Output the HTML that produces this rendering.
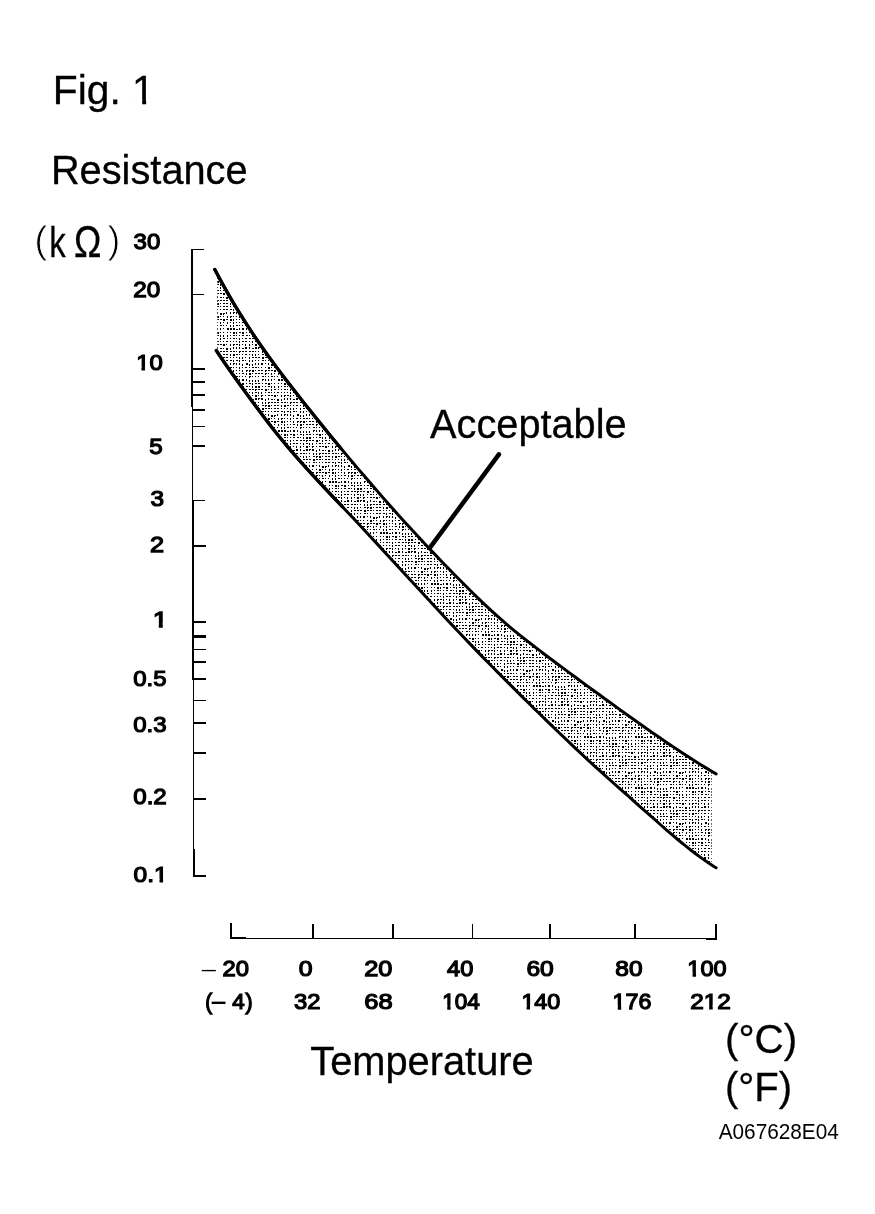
<!DOCTYPE html>
<html><head><meta charset="utf-8"><title>Fig. 1</title>
<style>
html,body{margin:0;padding:0;background:#fff;}
body{width:875px;height:1214px;overflow:hidden;}
svg{display:block;}
svg text{font-family:"Liberation Sans",sans-serif;fill:#000;font-kerning:none;}
</style></head><body>
<svg width="875" height="1214" viewBox="0 0 875 1214">
<rect width="875" height="1214" fill="#fff"/>
<defs><pattern id="dots" width="51" height="51" patternUnits="userSpaceOnUse"><path d="M0 0h2v1h-2zM3 0h2v1h-2zM7 0h2v2h-2zM10 0h2v1h-2zM13 0h2v1h-2zM16 0h1v1h-1zM19 0h2v1h-2zM22 0h2v1h-2zM26 0h1v1h-1zM29 0h1v1h-1zM32 0h1v1h-1zM35 0h1v2h-1zM38 0h1v2h-1zM41 0h1v1h-1zM45 0h1v2h-1zM48 0h2v1h-2zM0 3h1v1h-1zM3 3h1v1h-1zM7 3h2v1h-2zM10 3h1v1h-1zM13 3h1v1h-1zM16 3h1v1h-1zM19 3h2v1h-2zM22 3h2v1h-2zM26 3h2v1h-2zM29 3h1v2h-1zM32 3h2v1h-2zM35 3h1v2h-1zM38 3h2v1h-2zM41 3h1v1h-1zM45 3h1v2h-1zM48 3h1v2h-1zM0 6h1v2h-1zM3 6h1v2h-1zM6 6h2v2h-2zM10 6h1v1h-1zM13 6h1v2h-1zM16 7h2v2h-2zM19 7h2v1h-1v1h-1zM22 6h1v2h-1zM26 6h1v2h-1zM29 6h2v1h-1v1h-1zM32 6h1v2h-1zM35 6h1v2h-1zM38 7h1v2h-1zM42 6h2v2h-2zM45 7h1v2h-1zM48 7h1v2h-1zM0 10h2v1h-2zM3 10h1v1h-1zM6 10h1v1h-1zM10 10h1v1h-1zM13 10h2v2h-2zM16 10h1v1h-1zM19 10h1v1h-1zM23 10h1v2h-1zM26 10h2v1h-1v1h-1zM29 10h1v1h-1zM32 10h1v1h-1zM35 10h1v2h-1zM38 10h1v1h-1zM41 10h2v1h-2zM45 10h1v1h-1zM48 10h2v1h-2zM0 13h1v1h-1zM3 13h2v1h-2zM6 13h2v1h-2zM10 13h2v1h-1v1h-1zM13 13h2v1h-2zM16 13h2v1h-2zM19 13h2v2h-2zM22 13h2v1h-2zM26 13h2v2h-2zM29 13h1v2h-1zM32 13h1v1h-1zM35 13h1v1h-1zM38 13h1v2h-1zM42 13h2v1h-1v1h-1zM45 13h2v1h-1v1h-1zM48 13h2v2h-2zM0 16h2v1h-2zM3 16h2v1h-2zM6 16h2v1h-2zM10 16h2v1h-1v1h-1zM13 16h1v1h-1zM16 16h1v2h-1zM19 16h1v1h-1zM23 16h1v2h-1zM26 16h1v1h-1zM29 16h1v2h-1zM32 16h1v1h-1zM35 16h1v1h-1zM38 16h2v1h-2zM42 16h1v2h-1zM45 16h2v2h-2zM48 16h1v1h-1zM0 19h1v1h-1zM3 19h1v1h-1zM7 19h2v1h-2zM10 19h1v1h-1zM13 19h1v1h-1zM16 19h2v1h-2zM19 19h1v1h-1zM22 19h1v1h-1zM26 19h1v2h-1zM29 19h1v2h-1zM32 19h2v1h-2zM35 19h1v1h-1zM38 19h1v1h-1zM41 19h1v1h-1zM45 19h2v1h-1v1h-1zM48 19h1v1h-1zM0 23h1v2h-1zM3 23h1v2h-1zM7 22h2v1h-1v1h-1zM10 22h1v2h-1zM13 22h1v2h-1zM16 22h1v2h-1zM19 22h1v1h-1zM23 22h2v2h-2zM26 22h2v2h-2zM29 22h2v2h-2zM32 23h2v1h-2zM35 22h1v2h-1zM38 22h2v2h-2zM42 22h1v2h-1zM45 23h1v2h-1zM48 23h1v2h-1zM0 26h2v1h-2zM3 26h2v1h-2zM7 26h1v1h-1zM10 26h2v1h-2zM13 26h2v2h-2zM16 26h1v1h-1zM19 26h1v1h-1zM23 26h1v1h-1zM26 26h1v1h-1zM29 26h2v2h-2zM32 26h1v2h-1zM35 26h2v1h-2zM38 26h2v2h-2zM42 26h1v1h-1zM45 26h2v1h-2zM48 26h1v2h-1zM0 29h2v2h-2zM3 29h2v2h-2zM7 29h1v1h-1zM10 29h1v1h-1zM13 29h2v1h-2zM16 29h1v2h-1zM19 29h1v2h-1zM23 29h1v2h-1zM26 29h1v1h-1zM29 29h2v1h-2zM32 29h1v1h-1zM35 29h1v1h-1zM38 29h2v1h-2zM42 29h2v1h-2zM45 29h1v1h-1zM48 29h1v2h-1zM0 32h2v1h-1v1h-1zM3 32h2v1h-2zM6 32h2v1h-2zM10 32h2v2h-2zM13 32h1v1h-1zM16 32h1v2h-1zM19 32h2v1h-2zM23 32h1v1h-1zM26 32h1v1h-1zM29 32h2v1h-2zM32 32h1v1h-1zM35 32h1v2h-1zM38 32h1v1h-1zM41 32h2v1h-2zM45 32h2v1h-2zM48 32h2v1h-2zM0 35h2v1h-2zM3 35h1v2h-1zM6 35h1v2h-1zM10 35h1v1h-1zM13 35h2v1h-2zM16 35h1v1h-1zM19 35h1v1h-1zM22 35h2v1h-2zM26 35h1v1h-1zM29 35h1v1h-1zM32 35h1v1h-1zM35 35h1v2h-1zM38 35h2v1h-2zM41 35h2v1h-2zM45 35h1v1h-1zM48 35h1v2h-1zM0 38h2v2h-2zM3 38h1v1h-1zM6 38h2v1h-1v1h-1zM10 38h1v1h-1zM13 38h2v1h-2zM16 38h2v1h-2zM19 38h2v2h-2zM22 38h1v1h-1zM26 38h1v2h-1zM29 38h2v1h-1v1h-1zM32 38h2v1h-2zM35 38h1v2h-1zM38 38h1v1h-1zM41 38h1v2h-1zM45 38h1v2h-1zM48 38h1v1h-1zM0 41h2v2h-2zM3 41h2v1h-1v1h-1zM6 41h2v2h-2zM10 42h1v2h-1zM13 41h1v2h-1zM16 42h2v1h-2zM19 42h1v1h-1zM22 42h2v2h-2zM26 42h1v2h-1zM29 41h1v2h-1zM32 41h1v2h-1zM35 41h1v2h-1zM38 42h2v1h-2zM41 41h2v2h-2zM45 41h1v2h-1zM48 42h2v1h-2zM0 45h1v1h-1zM3 45h1v1h-1zM7 45h1v2h-1zM10 45h1v2h-1zM13 45h2v1h-1v1h-1zM16 45h2v1h-2zM19 45h2v1h-2zM22 45h2v1h-2zM26 45h2v1h-2zM29 45h2v1h-2zM32 45h1v1h-1zM35 45h2v1h-1v1h-1zM38 45h2v1h-2zM41 45h2v1h-2zM45 45h2v1h-2zM48 45h2v1h-2zM0 48h1v2h-1zM3 48h1v1h-1zM7 48h2v1h-2zM10 48h2v1h-1v1h-1zM13 48h2v2h-2zM16 48h1v1h-1zM19 48h2v1h-2zM22 48h2v1h-2zM26 48h1v2h-1zM29 48h2v2h-2zM32 48h2v1h-2zM35 48h1v1h-1zM38 48h1v1h-1zM41 48h2v1h-2zM45 48h1v1h-1zM48 48h1v2h-1z" fill="#000" shape-rendering="crispEdges"/></pattern></defs>
<polygon points="217.3,274.2 220.8,280.8 226.8,291.6 232.8,301.9 238.8,311.8 244.8,321.4 250.8,330.7 256.8,339.6 262.8,348.3 268.8,356.7 274.8,364.9 280.8,372.9 286.8,380.8 292.8,388.6 298.8,396.3 304.8,403.9 310.8,411.4 316.8,418.9 322.8,426.3 328.8,433.7 334.8,441.0 340.8,448.2 346.8,455.4 352.8,462.5 358.8,469.6 364.8,476.6 370.8,483.6 376.8,490.5 382.8,497.4 388.8,504.2 394.8,511.0 400.8,517.7 406.8,524.3 412.8,530.8 418.8,537.3 424.8,543.8 430.8,550.1 436.8,556.4 442.8,562.7 448.8,568.8 454.8,575.0 460.8,581.0 466.8,587.0 472.8,593.0 478.8,598.8 484.8,604.6 490.8,610.2 496.8,615.6 502.8,620.9 508.8,626.1 514.8,631.1 520.8,635.9 526.8,640.6 532.8,645.3 538.8,649.9 544.8,654.5 550.8,659.0 556.8,663.5 562.8,667.9 568.8,672.4 574.8,676.8 580.8,681.2 586.8,685.6 592.8,690.0 598.8,694.3 604.8,698.7 610.8,703.0 616.8,707.4 622.8,711.7 628.8,716.0 634.8,720.3 640.8,724.5 646.8,728.8 652.8,732.9 658.8,737.1 664.8,741.2 670.8,745.2 676.8,749.2 682.8,753.2 688.8,757.1 694.8,760.9 700.8,764.7 706.8,768.4 711.6,771.3 711.6,864.9 708.3,862.8 702.3,858.6 696.3,854.2 690.3,849.7 684.3,844.9 678.3,840.0 672.3,834.9 666.3,829.8 660.3,824.5 654.3,819.2 648.3,813.9 642.3,808.6 636.3,803.3 630.3,797.9 624.3,792.6 618.3,787.3 612.3,782.0 606.3,776.6 600.3,771.2 594.3,765.8 588.3,760.3 582.3,754.7 576.3,749.1 570.3,743.4 564.3,737.7 558.3,732.0 552.3,726.2 546.3,720.4 540.3,714.5 534.3,708.7 528.3,702.8 522.3,696.9 516.3,690.9 510.3,684.9 504.3,678.9 498.3,672.9 492.3,666.8 486.3,660.7 480.3,654.6 474.3,648.4 468.3,642.1 462.3,635.8 456.3,629.5 450.3,623.1 444.3,616.7 438.3,610.3 432.3,603.8 426.3,597.3 420.3,590.8 414.3,584.3 408.3,577.8 402.3,571.2 396.3,564.7 390.3,558.2 384.3,551.7 378.3,545.1 372.3,538.7 366.3,532.2 360.3,525.8 354.3,519.3 348.3,513.0 342.3,506.6 336.3,500.3 330.3,494.0 324.3,487.6 318.3,481.2 312.3,474.7 306.3,468.1 300.3,461.4 294.3,454.6 288.3,447.6 282.3,440.4 276.3,433.0 270.3,425.4 264.3,417.6 258.3,409.6 252.3,401.5 246.3,393.4 240.3,385.1 234.3,376.7 228.3,368.2 222.3,359.5 217.3,352.0" fill="url(#dots)"/>
<polyline points="214.8,269.5 220.8,280.8 226.8,291.6 232.8,301.9 238.8,311.8 244.8,321.4 250.8,330.7 256.8,339.6 262.8,348.3 268.8,356.7 274.8,364.9 280.8,372.9 286.8,380.8 292.8,388.6 298.8,396.3 304.8,403.9 310.8,411.4 316.8,418.9 322.8,426.3 328.8,433.7 334.8,441.0 340.8,448.2 346.8,455.4 352.8,462.5 358.8,469.6 364.8,476.6 370.8,483.6 376.8,490.5 382.8,497.4 388.8,504.2 394.8,511.0 400.8,517.7 406.8,524.3 412.8,530.8 418.8,537.3 424.8,543.8 430.8,550.1 436.8,556.4 442.8,562.7 448.8,568.8 454.8,575.0 460.8,581.0 466.8,587.0 472.8,593.0 478.8,598.8 484.8,604.6 490.8,610.2 496.8,615.6 502.8,620.9 508.8,626.1 514.8,631.1 520.8,635.9 526.8,640.6 532.8,645.3 538.8,649.9 544.8,654.5 550.8,659.0 556.8,663.5 562.8,667.9 568.8,672.4 574.8,676.8 580.8,681.2 586.8,685.6 592.8,690.0 598.8,694.3 604.8,698.7 610.8,703.0 616.8,707.4 622.8,711.7 628.8,716.0 634.8,720.3 640.8,724.5 646.8,728.8 652.8,732.9 658.8,737.1 664.8,741.2 670.8,745.2 676.8,749.2 682.8,753.2 688.8,757.1 694.8,760.9 700.8,764.7 706.8,768.4 712.8,772.0 716.1,773.9" fill="none" stroke="#000" stroke-width="3" stroke-linejoin="round" stroke-linecap="round"/>
<polyline points="214.8,269.5 220.8,280.8 226.8,291.6 232.8,301.9 238.8,311.8 244.8,321.4 250.8,330.7 256.8,339.6 262.8,348.3 268.8,356.7 274.8,364.9 280.8,372.9 286.8,380.8 292.8,388.6 298.8,396.3 304.8,403.9 310.8,411.4 316.8,418.9 322.8,426.3 328.8,433.7 334.8,441.0 340.8,448.2" fill="none" stroke="#000" stroke-width="3.3" stroke-linejoin="round" stroke-linecap="round"/>
<polyline points="216.3,350.5 222.3,359.5 228.3,368.2 234.3,376.7 240.3,385.1 246.3,393.4 252.3,401.5 258.3,409.6 264.3,417.6 270.3,425.4 276.3,433.0 282.3,440.4 288.3,447.6 294.3,454.6 300.3,461.4 306.3,468.1 312.3,474.7 318.3,481.2 324.3,487.6 330.3,494.0 336.3,500.3 342.3,506.6 348.3,513.0 354.3,519.3 360.3,525.8 366.3,532.2 372.3,538.7 378.3,545.1 384.3,551.7 390.3,558.2 396.3,564.7 402.3,571.2 408.3,577.8 414.3,584.3 420.3,590.8 426.3,597.3 432.3,603.8 438.3,610.3 444.3,616.7 450.3,623.1 456.3,629.5 462.3,635.8 468.3,642.1 474.3,648.4 480.3,654.6 486.3,660.7 492.3,666.8 498.3,672.9 504.3,678.9 510.3,684.9 516.3,690.9 522.3,696.9 528.3,702.8 534.3,708.7 540.3,714.5 546.3,720.4 552.3,726.2 558.3,732.0 564.3,737.7 570.3,743.4 576.3,749.1 582.3,754.7 588.3,760.3 594.3,765.8 600.3,771.2 606.3,776.6 612.3,782.0 618.3,787.3 624.3,792.6 630.3,797.9 636.3,803.3 642.3,808.6 648.3,813.9 654.3,819.2 660.3,824.5 666.3,829.8 672.3,834.9 678.3,840.0 684.3,844.9 690.3,849.7 696.3,854.2 702.3,858.6 708.3,862.8 714.3,866.7 716.1,867.8" fill="none" stroke="#000" stroke-width="3" stroke-linejoin="round" stroke-linecap="round"/>
<polyline points="216.3,350.5 222.3,359.5 228.3,368.2 234.3,376.7 240.3,385.1 246.3,393.4 252.3,401.5 258.3,409.6 264.3,417.6 270.3,425.4 276.3,433.0 282.3,440.4 288.3,447.6 294.3,454.6 300.3,461.4 306.3,468.1 312.3,474.7 318.3,481.2 324.3,487.6 330.3,494.0 336.3,500.3 342.3,506.6" fill="none" stroke="#000" stroke-width="3.3" stroke-linejoin="round" stroke-linecap="round"/>
<line x1="498.9" y1="454.3" x2="429.6" y2="548.2" stroke="#000" stroke-width="4.5"/><circle cx="498.9" cy="454.3" r="2.25" fill="#000"/>
<path d="M191 249H193V407H191zM192 407H193V500H192zM192 500H194V679H192zM193 679H194V849H193zM193 849H195V877H193zM191 249H204V250H191zM191 294H204V295.3H191zM191 368H204.5V370H191zM191 381H205V383H191zM191 394H204.5V396H191zM192 409H205V411H192zM192 426H205V427H192zM192 445H205V447H192zM192 499.8H205V501.3H192zM192 545H205.5V547H192zM192 620.8H205.5V623.1H192zM192 635H206V638H192zM192 649H206V650H192zM192 661H206V663H192zM192 678H206V680H192zM193 700H206V701H193zM193 722H206V724H193zM193 752H206V754H193zM193 798H206V800H193zM193 875H206V877H193zM230 923H232V939H230zM230 937H246V939H230zM230 938H717V939H230zM706 938H717V940H706zM715 924H717V940H715zM311.5 924H313.5V939H311.5zM392 924H394V939H392zM472 924H473V939H472zM549 924H551V939H549zM634 924H636V939H634z" fill="#000" shape-rendering="crispEdges"/>
<text transform="translate(52.81,103.85) scale(1.0066,1)" font-size="40.5" stroke="#000" stroke-width="0.3">Fig. 1</text><rect x="134.52" y="99.27" width="7.63" height="6.33" fill="#fff"/><rect x="146.15" y="99.27" width="8.49" height="6.33" fill="#fff"/>
<text transform="translate(50.89,183.85) scale(0.9825,1)" font-size="40.5" stroke="#000" stroke-width="0.3">Resistance</text>
<text transform="translate(430.07,437.75) scale(0.9813,1)" font-size="40.5" stroke="#000" stroke-width="0.3">Acceptable</text>
<text transform="translate(310.26,1074.85) scale(0.9829,1)" font-size="40.5" stroke="#000" stroke-width="0.3" style="font-kerning:normal">Temperature</text>
<text transform="translate(34.24,253.10) scale(1.0103,1)" font-size="39.2" stroke="#fff" stroke-width="0.9">(</text>
<text transform="translate(49.13,256.75) scale(0.7788,1)" font-size="42.3" stroke="#000" stroke-width="0.3">k</text>
<text transform="translate(73.99,256.75) scale(0.8285,1)" font-size="44.3" stroke="#000" stroke-width="0.3">Ω</text>
<text transform="translate(107.57,253.10) scale(0.9910,1)" font-size="39.2" stroke="#fff" stroke-width="0.9">)</text>
<text transform="translate(724.95,1052.85) scale(0.9850,1)" font-size="41" stroke="#000" stroke-width="0.3">(°C)</text>
<text transform="translate(724.97,1100.85) scale(0.9770,1)" font-size="41" stroke="#000" stroke-width="0.3">(°F)</text>
<text transform="translate(718.66,1138.80) scale(0.9808,1)" font-size="21.2">A067628E04</text>
<text transform="translate(133.61,249.47) scale(1.0717,1)" font-size="22.400000000000002" stroke="#000" stroke-width="1.25" stroke-linejoin="miter">30</text>
<text transform="translate(133.30,297.48) scale(1.0845,1)" font-size="22.400000000000002" stroke="#000" stroke-width="1.25" stroke-linejoin="miter">20</text>
<text transform="translate(136.13,370.48) scale(1.0669,1)" font-size="22.400000000000002" stroke="#000" stroke-width="1.25" stroke-linejoin="miter">10</text><rect x="136.39" y="366.78" width="5.03" height="5.92" fill="#fff"/><rect x="144.96" y="366.78" width="4.42" height="5.92" fill="#fff"/>
<text transform="translate(149.36,454.48) scale(1.0781,1)" font-size="22.400000000000002" stroke="#000" stroke-width="1.25" stroke-linejoin="miter">5</text>
<text transform="translate(150.40,506.28) scale(1.0875,1)" font-size="22.400000000000002" stroke="#000" stroke-width="1.25" stroke-linejoin="miter">3</text>
<text transform="translate(150.05,552.48) scale(1.1318,1)" font-size="22.400000000000002" stroke="#000" stroke-width="1.25" stroke-linejoin="miter">2</text>
<text transform="translate(152.70,626.58) scale(1.2184,1)" font-size="22.400000000000002" stroke="#000" stroke-width="1.25" stroke-linejoin="miter">1</text><rect x="153.00" y="622.88" width="5.75" height="5.92" fill="#fff"/><rect x="162.79" y="622.88" width="6.56" height="5.92" fill="#fff"/>
<text transform="translate(133.29,685.68) scale(1.0691,1)" font-size="22.400000000000002" stroke="#000" stroke-width="1.25" stroke-linejoin="miter">0.5</text>
<text transform="translate(133.29,731.58) scale(1.0707,1)" font-size="22.400000000000002" stroke="#000" stroke-width="1.25" stroke-linejoin="miter">0.3</text>
<text transform="translate(133.28,803.68) scale(1.0759,1)" font-size="22.400000000000002" stroke="#000" stroke-width="1.25" stroke-linejoin="miter">0.2</text>
<text transform="translate(133.57,882.48) scale(1.0956,1)" font-size="22.400000000000002" stroke="#000" stroke-width="1.25" stroke-linejoin="miter">0.1</text><rect x="154.31" y="878.78" width="5.16" height="5.92" fill="#fff"/><rect x="163.11" y="878.78" width="6.04" height="5.92" fill="#fff"/>
<text transform="translate(201.70,975.60) scale(1.2688,1)" font-size="20">–</text>
<text transform="translate(222.43,975.98) scale(1.0722,1)" font-size="22.200000000000003" stroke="#000" stroke-width="1.25" stroke-linejoin="miter">20</text>
<text transform="translate(298.66,975.98) scale(1.1166,1)" font-size="22.200000000000003" stroke="#000" stroke-width="1.25" stroke-linejoin="miter">0</text>
<text transform="translate(364.25,975.98) scale(1.1427,1)" font-size="22.200000000000003" stroke="#000" stroke-width="1.25" stroke-linejoin="miter">20</text>
<text transform="translate(447.08,975.98) scale(1.0658,1)" font-size="22.200000000000003" stroke="#000" stroke-width="1.25" stroke-linejoin="miter">40</text>
<text transform="translate(526.38,975.98) scale(1.1080,1)" font-size="22.200000000000003" stroke="#000" stroke-width="1.25" stroke-linejoin="miter">60</text>
<text transform="translate(615.36,975.98) scale(1.1001,1)" font-size="22.200000000000003" stroke="#000" stroke-width="1.25" stroke-linejoin="miter">80</text>
<text transform="translate(687.37,976.38) scale(1.0562,1)" font-size="22.200000000000003" stroke="#000" stroke-width="1.25" stroke-linejoin="miter">100</text><rect x="687.62" y="972.69" width="4.94" height="5.91" fill="#fff"/><rect x="696.05" y="972.69" width="4.34" height="5.91" fill="#fff"/>
<text transform="translate(205.25,1008.77) scale(0.9259,1)" font-size="22.200000000000003" stroke="#000" stroke-width="1.25" stroke-linejoin="miter">(</text>
<text transform="translate(210.65,1009.20) scale(1.1698,1)" font-size="24" font-weight="bold">–</text>
<text transform="translate(232.21,1008.77) scale(1.0057,1)" font-size="22.200000000000003" stroke="#000" stroke-width="1.25" stroke-linejoin="miter">4</text>
<text transform="translate(245.40,1008.77) scale(0.9599,1)" font-size="22.200000000000003" stroke="#000" stroke-width="1.25" stroke-linejoin="miter">)</text>
<text transform="translate(293.92,1008.77) scale(1.0712,1)" font-size="22.200000000000003" stroke="#000" stroke-width="1.25" stroke-linejoin="miter">32</text>
<text transform="translate(364.23,1008.77) scale(1.1482,1)" font-size="22.200000000000003" stroke="#000" stroke-width="1.25" stroke-linejoin="miter">68</text>
<text transform="translate(442.26,1008.77) scale(1.0145,1)" font-size="22.200000000000003" stroke="#000" stroke-width="1.25" stroke-linejoin="miter">104</text><rect x="442.50" y="1005.09" width="4.74" height="5.91" fill="#fff"/><rect x="450.60" y="1005.09" width="4.17" height="5.91" fill="#fff"/>
<text transform="translate(521.38,1008.77) scale(1.0533,1)" font-size="22.200000000000003" stroke="#000" stroke-width="1.25" stroke-linejoin="miter">140</text><rect x="521.62" y="1005.09" width="4.92" height="5.91" fill="#fff"/><rect x="530.03" y="1005.09" width="4.33" height="5.91" fill="#fff"/>
<text transform="translate(612.59,1008.77) scale(1.0478,1)" font-size="22.200000000000003" stroke="#000" stroke-width="1.25" stroke-linejoin="miter">176</text><rect x="612.83" y="1005.09" width="4.90" height="5.91" fill="#fff"/><rect x="621.20" y="1005.09" width="4.31" height="5.91" fill="#fff"/>
<text transform="translate(690.20,1008.98) scale(1.0961,1)" font-size="22.200000000000003" stroke="#000" stroke-width="1.25" stroke-linejoin="miter">212</text><rect x="703.99" y="1005.29" width="5.13" height="5.91" fill="#fff"/><rect x="712.74" y="1005.29" width="4.51" height="5.91" fill="#fff"/>
</svg>
</body></html>
